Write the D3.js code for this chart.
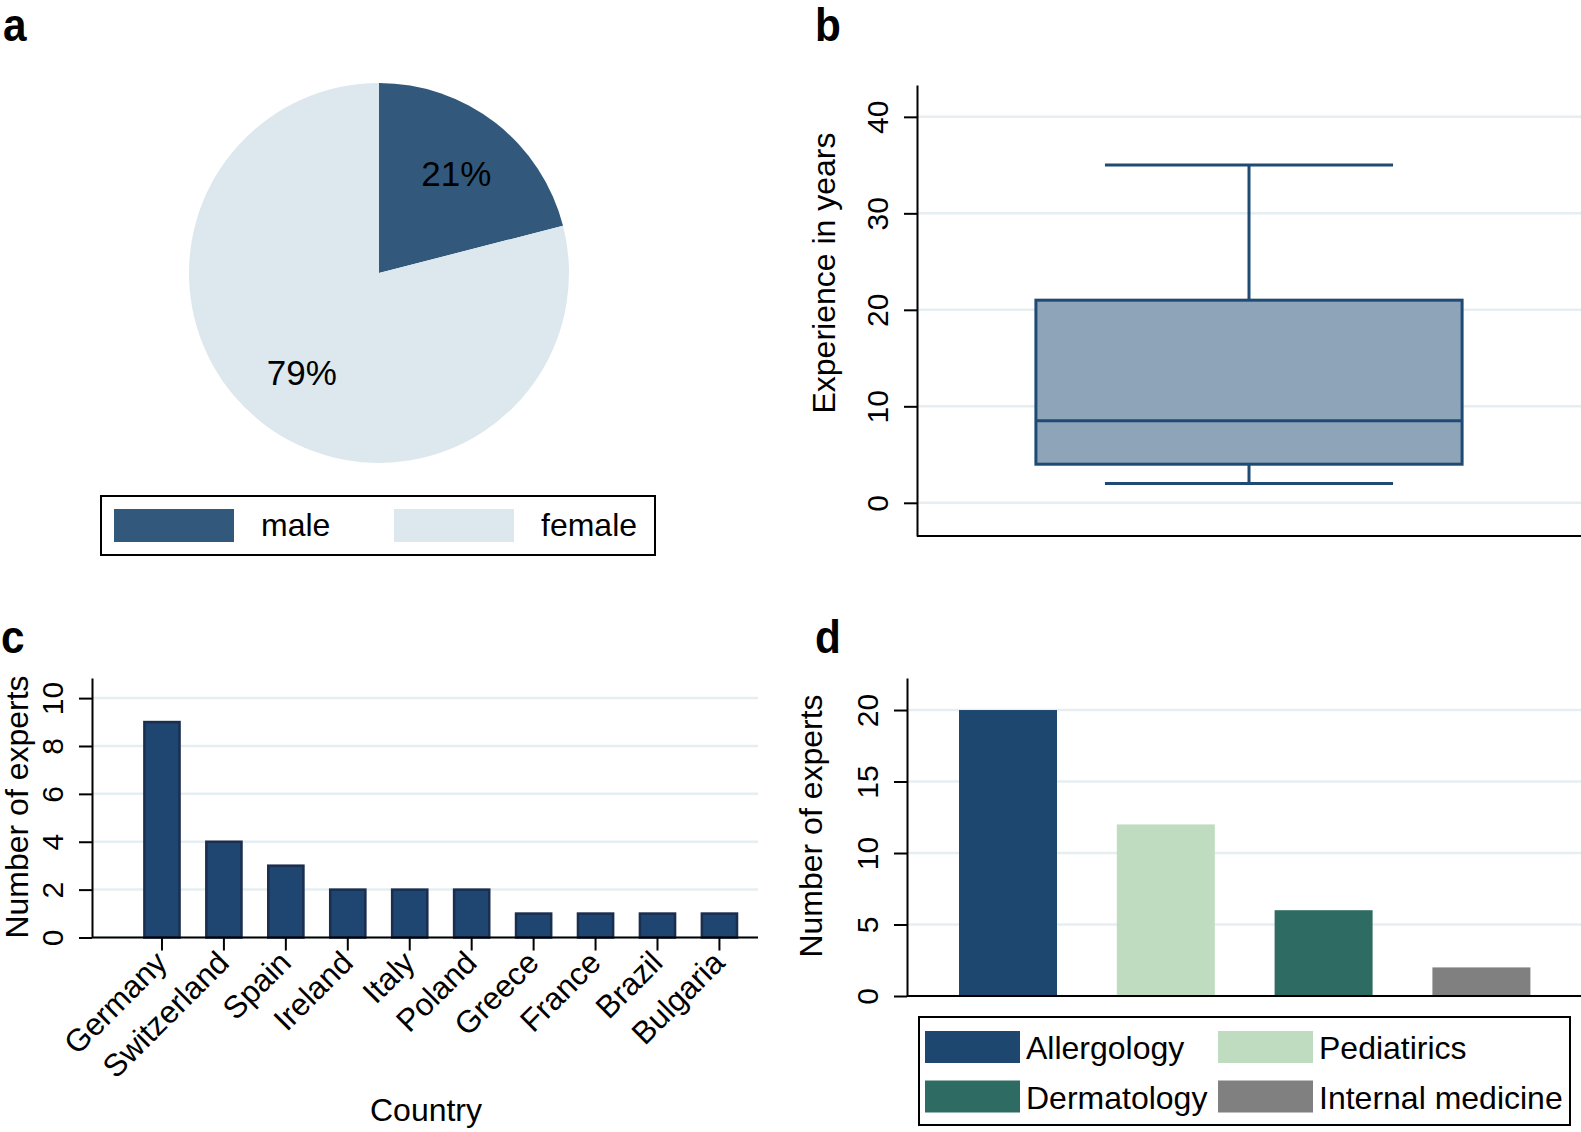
<!DOCTYPE html>
<html><head><meta charset="utf-8">
<script src="https://cdn.jsdelivr.net/npm/d3@7"></script>
<style>
body{margin:0;background:#fff}
svg{display:block}
text{font-family:"Liberation Sans",Arial,Helvetica,sans-serif;fill:#000}
</style>
</head><body>
<svg id="chart" width="1581" height="1132"></svg>
<script>
// ---------- data ----------
const genderLabels = ["male", "female"];
const genderPct = [21, 79];

const boxStatNames = ["lower whisker", "q1", "median", "q3", "upper whisker"];
const boxStatValues = [2, 4, 8.5, 21, 35];
const experienceTicks = [0, 10, 20, 30, 40];

const countries = ["Germany", "Switzerland", "Spain", "Ireland", "Italy", "Poland", "Greece", "France", "Brazil", "Bulgaria"];
const countryCounts = [9, 4, 3, 2, 2, 2, 1, 1, 1, 1];
const countryTicks = [0, 2, 4, 6, 8, 10];

const specialties = ["Allergology", "Pediatirics", "Dermatology", "Internal medicine"];
const specialtyCounts = [20, 12, 6, 2];
const specialtyTicks = [0, 5, 10, 15, 20];

// ---------- styles ----------
const pieColors = ["#32597c", "#dde8ee"];
const boxFill = "#8ea4b8", boxStroke = "#1f4a73";
const barFillC = "#1e4670", barStrokeC = "#1a2e50";
const specColors = ["#1d476e", "#bfdcc0", "#2e6b63", "#808080"];
const gridColor = "#e7eef1";
const FONT_TICK = 30, FONT_TITLE = 32;

const svg = d3.select("#chart");

function panelLabel(txt, x, y) {
  svg.append("text").attr("transform", `translate(${x},${y}) scale(0.92,1)`)
    .attr("font-size", 46).attr("font-weight", "bold").text(txt);
}

// vertical axis with rotated labels, ticks and gridlines
function leftAxis(scale, ticks, axisX, gridRight, title, titleX, titleY) {
  const g = svg.append("g");
  g.append("g").selectAll("line").data(ticks).join("line")
    .attr("x1", axisX).attr("x2", gridRight)
    .attr("y1", d => scale(d)).attr("y2", d => scale(d))
    .attr("stroke", gridColor).attr("stroke-width", 2.5);
  const ax = g.append("g").attr("transform", `translate(${axisX},0)`)
    .call(d3.axisLeft(scale).tickValues(ticks).tickSize(13).tickSizeOuter(0));
  ax.select(".domain").attr("stroke", "#000").attr("stroke-width", 2);
  ax.selectAll(".tick line").attr("stroke", "#000").attr("stroke-width", 2);
  ax.selectAll(".tick text")
    .attr("x", null).attr("dy", null).attr("y", null)
    .attr("text-anchor", "middle")
    .attr("transform", "translate(-29,0) rotate(-90)")
    .attr("font-size", FONT_TICK).attr("font-family", null).attr("fill", "#000");
  ax.attr("font-family", null).attr("font-size", null);
  g.append("text").attr("transform", `translate(${titleX},${titleY}) rotate(-90)`)
    .attr("text-anchor", "middle").attr("font-size", FONT_TITLE).text(title);
  return g;
}

// ---------- panel a : pie ----------
panelLabel("a", 3, 41);
{
  const cx = 379, cy = 273, r = 190;
  const g = svg.append("g").attr("transform", `translate(${cx},${cy})`);
  const arcs = d3.pie().sort(null).value(d => d)(genderPct);
  const arc = d3.arc().innerRadius(0).outerRadius(r);
  const labelArc = d3.arc().innerRadius(126).outerRadius(126);
  g.selectAll("path").data(arcs).join("path")
    .attr("d", arc).attr("fill", (d, i) => pieColors[i]);
  g.selectAll("text").data(arcs).join("text")
    .attr("transform", d => `translate(${labelArc.centroid(d)})`)
    .attr("text-anchor", "middle").attr("dy", "0.35em")
    .attr("font-size", 35).text(d => d.data + "%");

  const lg = svg.append("g");
  lg.append("rect").attr("x", 101).attr("y", 496).attr("width", 554).attr("height", 59)
    .attr("fill", "none").attr("stroke", "#000").attr("stroke-width", 2);
  const items = lg.selectAll("g.item").data(genderLabels).join("g")
    .attr("transform", (d, i) => `translate(${114 + i * 280},0)`);
  items.append("rect").attr("x", 0).attr("y", 509).attr("width", 120).attr("height", 33)
    .attr("fill", (d, i) => pieColors[i]);
  items.append("text").attr("x", 147).attr("y", 536).attr("font-size", 32).text(d => d);
}

// ---------- panel b : box plot ----------
panelLabel("b", 815, 41);
{
  const y = d3.scaleLinear().domain([-3.44, 43.3]).range([536, 85]);
  const x = d3.scaleBand().domain(["experience"]).range([917, 1581]).paddingOuter(0.279).paddingInner(0);
  leftAxis(y, experienceTicks, 917, 1581, "Experience in years", 835, 273);
  svg.append("line").attr("x1", 917).attr("x2", 1581).attr("y1", y.range()[0]).attr("y2", y.range()[0])
    .attr("stroke", "#000").attr("stroke-width", 2);

  const [lo, q1, med, q3, hi] = boxStatValues;
  const bx = x("experience"), bw = x.bandwidth(), cxm = bx + bw / 2, capW = bw * 0.676;
  const g = svg.append("g").attr("stroke", boxStroke).attr("stroke-width", 3);
  g.append("line").attr("x1", cxm).attr("x2", cxm).attr("y1", y(q3)).attr("y2", y(hi));
  g.append("line").attr("x1", cxm).attr("x2", cxm).attr("y1", y(q1)).attr("y2", y(lo));
  g.append("line").attr("x1", cxm - capW / 2).attr("x2", cxm + capW / 2).attr("y1", y(hi)).attr("y2", y(hi));
  g.append("line").attr("x1", cxm - capW / 2).attr("x2", cxm + capW / 2).attr("y1", y(lo)).attr("y2", y(lo));
  g.append("rect").attr("x", bx).attr("width", bw).attr("y", y(q3)).attr("height", y(q1) - y(q3))
    .attr("fill", boxFill);
  g.append("line").attr("x1", bx).attr("x2", bx + bw).attr("y1", y(med)).attr("y2", y(med));
}

// ---------- panel c : countries ----------
panelLabel("c", 1, 653);
{
  const y = d3.scaleLinear().domain([0, 10.84]).range([937.5, 678]);
  const x = d3.scaleBand().domain(countries).range([131, 750.4]).paddingInner(0.4).paddingOuter(0.2);
  leftAxis(y, countryTicks, 92, 758, "Number of experts", 28, 807);
  svg.append("g").selectAll("rect").data(countries).join("rect")
    .attr("x", d => x(d) + 1).attr("width", x.bandwidth() - 2)
    .attr("y", (d, i) => y(countryCounts[i])).attr("height", (d, i) => y(0) - y(countryCounts[i]))
    .attr("fill", barFillC).attr("stroke", barStrokeC).attr("stroke-width", 2.5);
  svg.append("line").attr("x1", 92).attr("x2", 758).attr("y1", y(0)).attr("y2", y(0))
    .attr("stroke", "#000").attr("stroke-width", 2);
  const ax = svg.append("g").attr("transform", `translate(0,${y(0)})`)
    .call(d3.axisBottom(x).tickSize(13).tickSizeOuter(0));
  ax.attr("font-family", null).attr("font-size", null);
  ax.select(".domain").remove();
  ax.selectAll(".tick line").attr("stroke", "#000").attr("stroke-width", 2);
  ax.selectAll(".tick text").attr("x", null).attr("y", null).attr("dy", null)
    .attr("text-anchor", "end").attr("transform", "translate(7,27) rotate(-45)")
    .attr("font-size", 31.5).attr("fill", "#000");
  svg.append("text").attr("x", 426).attr("y", 1121).attr("text-anchor", "middle")
    .attr("font-size", FONT_TITLE).text("Country");
}

// ---------- panel d : specialties ----------
panelLabel("d", 815, 653);
{
  const y = d3.scaleLinear().domain([0, 22.24]).range([996, 678]);
  const x = d3.scaleBand().domain(specialties).range([929.1, 1560.3]).paddingInner(0.379).paddingOuter(0.1895);
  leftAxis(y, specialtyTicks, 907, 1581, "Number of experts", 822, 826);
  svg.append("g").selectAll("rect").data(specialties).join("rect")
    .attr("x", d => x(d)).attr("width", x.bandwidth())
    .attr("y", (d, i) => y(specialtyCounts[i])).attr("height", (d, i) => y(0) - y(specialtyCounts[i]))
    .attr("fill", (d, i) => specColors[i]);
  svg.append("line").attr("x1", 907).attr("x2", 1581).attr("y1", y(0)).attr("y2", y(0))
    .attr("stroke", "#000").attr("stroke-width", 2);

  const lg = svg.append("g");
  lg.append("rect").attr("x", 919).attr("y", 1017).attr("width", 651).attr("height", 108)
    .attr("fill", "none").attr("stroke", "#000").attr("stroke-width", 2);
  const items = lg.selectAll("g.item").data(specialties).join("g")
    .attr("transform", (d, i) => `translate(${925 + (i % 2) * 293},${1031 + Math.floor(i / 2) * 49.5})`);
  items.append("rect").attr("width", 95).attr("height", 32).attr("fill", (d, i) => specColors[i]);
  items.append("text").attr("x", 101).attr("y", 28).attr("font-size", 32).text(d => d);
}
</script>
</body></html>
